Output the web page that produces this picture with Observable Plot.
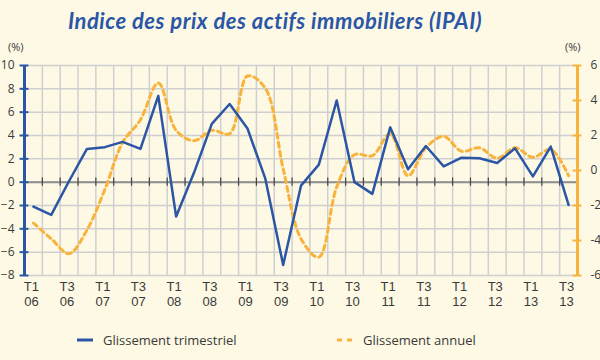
<!DOCTYPE html>
<html><head><meta charset="utf-8">
<script src="https://cdn.jsdelivr.net/npm/d3@7"></script>
<script src="https://cdn.jsdelivr.net/npm/@observablehq/plot@0.6"></script>
<style>
html,body{margin:0;padding:0;background:#fdf9e4;}
#wrap{position:relative;width:600px;height:360px;background:#fdf9e4;font-family:"Open Sans",sans-serif;color:#3a3a3a;overflow:hidden;}
#head{position:relative;height:55px;}
#title{position:absolute;left:68px;top:7px;font-family:Lato,sans-serif;font-weight:bold;font-style:italic;font-size:22px;letter-spacing:0.5px;color:#2b56a6;white-space:nowrap;}
.pct{position:absolute;top:39px;font-size:11px;color:#3a3a3a;}
#legend{position:relative;height:40px;font-size:13px;}
.lg{position:absolute;top:11px;display:flex;align-items:center;}
</style></head>
<body>
<div id="wrap">
  <div id="head">
    <div id="title">Indice des prix des actifs immobiliers (IPAI)</div>
    <div class="pct" style="left:8px">(%)</div>
    <div class="pct" style="left:565px">(%)</div>
  </div>
  <div id="chart"></div>
  <div id="legend">
    <div class="lg" style="left:77px"><svg width="18" height="10"><line x1="0" x2="16" y1="5" y2="5" stroke="#2b56a6" stroke-width="3"/></svg><span style="margin-left:8px">Glissement trimestriel</span></div>
    <div class="lg" style="left:337px"><svg width="18" height="10"><line x1="0" x2="16" y1="5" y2="5" stroke="#f8b33c" stroke-width="3" stroke-dasharray="5,5"/></svg><span style="margin-left:8px">Glissement annuel</span></div>
  </div>
</div>
<script>
const periods = ["T1 06","T2 06","T3 06","T4 06","T1 07","T2 07","T3 07","T4 07",
  "T1 08","T2 08","T3 08","T4 08","T1 09","T2 09","T3 09","T4 09",
  "T1 10","T2 10","T3 10","T4 10","T1 11","T2 11","T3 11","T4 11",
  "T1 12","T2 12","T3 12","T4 12","T1 13","T2 13","T3 13"];
const trimestriel = [-2.1, -2.8, 0.1, 2.85, 3.0, 3.45, 2.85, 7.4, -2.95, 0.8, 5.0, 6.7, 4.6, 0.3, -7.1, -0.3,
  1.5, 7.0, 0.0, -1.0, 4.7, 1.1, 3.1, 1.35, 2.1, 2.05, 1.65, 2.9, 0.5, 3.05, -1.95];
const annuel = [-3.0, -3.9, -4.75, -3.4, -1.1, 1.6, 2.9, 5.0, 2.3, 1.7, 2.3, 2.1, 5.4, 4.7, 0.1, -3.9,
  -4.95, -0.95, 0.9, 0.85, 2.1, -0.3, 1.3, 1.95, 1.1, 1.3, 0.7, 1.3, 0.75, 1.2, -0.3];
const leftTicks = [-8, -6, -4, -2, 0, 2, 4, 6, 8, 10];
const rightTicks = [-6, -4, -2, 0, 2, 4, 6];

const BLUE = "#2b56a6", ORANGE = "#f8b33c", GRID = "#cfcfd2";
// right scale [-6,6] mapped onto left scale [-8,10]
const toLeft = v => -8 + (v + 6) * 18 / 12;
const rows = periods.map((p, i) => ({i, p, tri: trimestriel[i], ann: annuel[i]}));
const n = periods.length;
const bounds = d3.range(1, n).map(k => k - 0.5);
const shownIdx = periods.map((p, i) => (p.startsWith("T1") || p.startsWith("T3")) ? i : null).filter(i => i !== null);
const XFONT = "'Liberation Sans', Arial, sans-serif";

const chart = Plot.plot({
  width: 600, height: 265,
  marginTop: 10, marginBottom: 45, marginLeft: 24, marginRight: 23,
  style: {background: "#fdf9e4", fontFamily: "'Open Sans', sans-serif", color: "#3a3a3a"},
  x: {type: "linear", domain: [-0.5, n - 0.5], axis: null},
  y: {domain: [-8, 10], axis: null},
  marks: [
    Plot.ruleY(leftTicks, {stroke: GRID, strokeWidth: 1.5}),
    Plot.ruleX(bounds, {stroke: GRID, strokeWidth: 1.5}),
    Plot.ruleY([0], {stroke: "#8e8e8e", strokeWidth: 2}),
    Plot.ruleX(bounds, {y1: -0.35, y2: 0.35, stroke: "#444", strokeWidth: 1.2}),
    Plot.line(rows, {x: "i", y: d => toLeft(d.ann), stroke: ORANGE, strokeWidth: 3, strokeDasharray: "5,4", curve: "catmull-rom"}),
    Plot.line(rows, {x: "i", y: "tri", stroke: BLUE, strokeWidth: 2.5}),
    Plot.ruleX([-0.5], {stroke: BLUE, strokeWidth: 3}),
    Plot.ruleY(leftTicks, {x1: -0.75, x2: -0.25, stroke: BLUE, strokeWidth: 2}),
    Plot.ruleX([n - 0.5], {stroke: ORANGE, strokeWidth: 3}),
    Plot.ruleY(rightTicks.map(toLeft), {x1: n - 0.75, x2: n - 0.25, stroke: ORANGE, strokeWidth: 2}),
    Plot.axisY(leftTicks, {anchor: "left", tickSize: 0, tickPadding: 10, label: null, fontSize: 12, fill: "#3a3a3a"}),
    Plot.axisY(rightTicks.map(toLeft), {anchor: "right", tickSize: 0, tickPadding: 13, label: null, fontSize: 12, fill: "#3a3a3a",
      tickFormat: d => String(Math.round((d + 8) * 12 / 18 - 6))}),
    Plot.axisX(shownIdx, {anchor: "bottom", tickSize: 0, tickPadding: 6, label: null, fontSize: 13, fontFamily: XFONT, fill: "#3a3a3a", dx: -2,
      tickFormat: i => periods[i].split(" ")[0]}),
    Plot.axisX(shownIdx, {anchor: "bottom", tickSize: 0, tickPadding: 21, label: null, fontSize: 13, fontFamily: XFONT, fill: "#3a3a3a", dx: -2,
      tickFormat: i => periods[i].split(" ")[1]})
  ]
});
document.getElementById("chart").appendChild(chart);
</script>
</body></html>
